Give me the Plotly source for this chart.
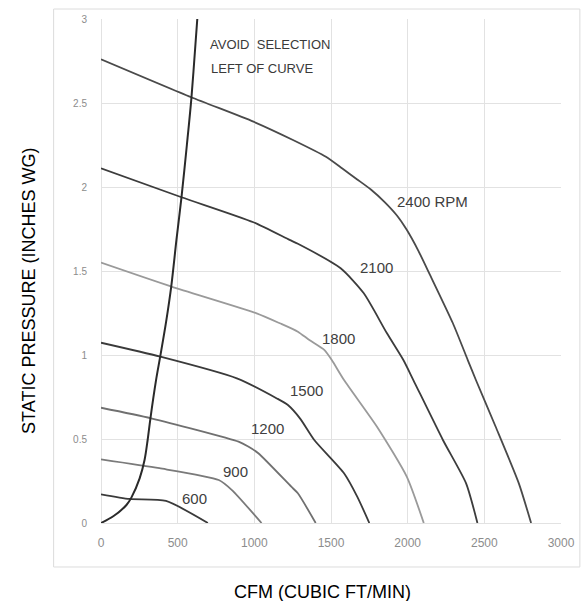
import plotly.graph_objects as go

# ---------------- data ----------------
x_ticks = [0, 500, 1000, 1500, 2000, 2500, 3000]
x_tick_labels = ["0", "500", "1000", "1500", "2000", "2500", "3000"]
y_ticks = [0, 0.5, 1, 1.5, 2, 2.5, 3]
y_tick_labels = ["0", "0.5", "1", "1.5", "2", "2.5", "3"]

rpm2400_cfm = [0, 589, 994, 1252, 1467, 1574, 1671, 1760, 1850, 1930, 1994, 2070, 2144, 2295, 2392, 2445, 2574, 2725, 2805]
rpm2400_sp = [2.76, 2.534, 2.389, 2.28, 2.18, 2.11, 2.045, 1.985, 1.91, 1.83, 1.745, 1.62, 1.48, 1.189, 0.97, 0.851, 0.573, 0.236, 0]

rpm2100_cfm = [0, 525, 994, 1230, 1284, 1563, 1714, 1865, 1972, 2037, 2230, 2381, 2455]
rpm2100_sp = [2.111, 1.939, 1.79, 1.685, 1.662, 1.516, 1.367, 1.129, 0.97, 0.851, 0.494, 0.236, 0]

rpm1800_cfm = [0, 460, 1015, 1166, 1284, 1359, 1456, 1505, 1585, 1800, 1994, 2105]
rpm1800_sp = [1.55, 1.407, 1.248, 1.189, 1.139, 1.089, 1.03, 0.97, 0.851, 0.573, 0.276, 0]

rpm1500_cfm = [0, 387, 886, 1150, 1219, 1300, 1391, 1585, 1671, 1750]
rpm1500_sp = [1.073, 0.99, 0.861, 0.74, 0.702, 0.62, 0.494, 0.296, 0.157, 0]

rpm1200_cfm = [0, 327, 897, 960, 1026, 1241, 1284, 1400]
rpm1200_sp = [0.686, 0.623, 0.484, 0.455, 0.415, 0.216, 0.177, 0]

rpm900_cfm = [0, 381, 768, 854, 1047]
rpm900_sp = [0.379, 0.326, 0.256, 0.196, 0]

rpm600_cfm = [0, 187, 424, 697]
rpm600_sp = [0.171, 0.143, 0.131, 0]

system_cfm = [0, 80, 166, 198, 252, 284, 305, 322, 359, 386, 425, 458, 492, 525, 560, 590, 618, 628]
system_sp = [0, 0.04, 0.107, 0.151, 0.266, 0.375, 0.5, 0.62, 0.85, 0.99, 1.2, 1.407, 1.685, 1.94, 2.25, 2.534, 2.875, 3.0]

curve_names = ["2400 RPM", "2100", "1800", "1500", "1200", "900", "600"]
curve_x = [rpm2400_cfm, rpm2100_cfm, rpm1800_cfm, rpm1500_cfm, rpm1200_cfm, rpm900_cfm, rpm600_cfm]
curve_y = [rpm2400_sp, rpm2100_sp, rpm1800_sp, rpm1500_sp, rpm1200_sp, rpm900_sp, rpm600_sp]

# ---------------- styles ----------------
curve_colors = ["#4a4a4a", "#3c3c3c", "#9a9a9a", "#3a3a3a", "#707070", "#7a7a7a", "#3a3a3a"]
label_pos = [(2161, 1.911), (1797, 1.518), (1548, 1.101), (1342, 0.786), (1087, 0.56), (876, 0.304), (608, 0.143)]

FONT = "Liberation Sans, Arial, sans-serif"

fig = go.Figure()
for name, xs, ys, col in zip(curve_names, curve_x, curve_y, curve_colors):
    fig.add_trace(go.Scatter(x=xs, y=ys, mode="lines", name=name,
                             line=dict(color=col, width=1.8, shape="spline", smoothing=0.6),
                             hoverinfo="skip", showlegend=False))

fig.add_trace(go.Scatter(x=system_cfm, y=system_sp, mode="lines", name="system",
                         line=dict(color="#2a2a2a", width=2.0, shape="spline", smoothing=0.9),
                         hoverinfo="skip", showlegend=False))

annotations = []
for name, (lx, ly) in zip(curve_names, label_pos):
    annotations.append(dict(x=lx, y=ly, xref="x", yref="y", text=name, showarrow=False,
                            xanchor="center", yanchor="middle",
                            font=dict(family=FONT, size=15, color="#404040")))

annotations.append(dict(x=697, y=2.847, xref="x", yref="y", text="AVOID&nbsp; SELECTION",
                        showarrow=False, xanchor="left", yanchor="middle",
                        font=dict(family=FONT, size=13, color="#3a3a3a")))
annotations.append(dict(x=703, y=2.708, xref="x", yref="y", text="LEFT OF CURVE",
                        showarrow=False, xanchor="left", yanchor="middle",
                        font=dict(family=FONT, size=13, color="#3a3a3a")))

# axis titles
annotations.append(dict(x=0.4817, y=-0.137, xref="paper", yref="paper",
                        text="CFM (CUBIC FT/MIN)", showarrow=False,
                        xanchor="center", yanchor="middle",
                        font=dict(family=FONT, size=18, color="#000000")))
annotations.append(dict(x=-0.157, y=0.46, xref="paper", yref="paper",
                        text="STATIC PRESSURE (INCHES WG)", showarrow=False, textangle=-90,
                        xanchor="center", yanchor="middle",
                        font=dict(family=FONT, size=18, color="#000000")))

fig.update_layout(
    width=587, height=601,
    margin=dict(l=101, r=21, t=19, b=78),
    paper_bgcolor="white", plot_bgcolor="white",
    annotations=annotations,
    shapes=[dict(type="rect", xref="paper", yref="paper",
                 x0=-0.103, x1=1.041, y0=-0.0873, y1=1.0198,
                 line=dict(color="#dcdcdc", width=1), fillcolor="rgba(0,0,0,0)", layer="below")],
)

fig.update_xaxes(range=[0, 3000], tickvals=x_ticks, ticktext=x_tick_labels,
                 showgrid=True, gridcolor="#e2e2e2", gridwidth=1,
                 zeroline=True, zerolinecolor="#e2e2e2", zerolinewidth=1,
                 showline=False, ticks="outside", ticklen=9, tickcolor="rgba(0,0,0,0)",
                 tickfont=dict(family=FONT, size=12, color="#8c8c8c"), fixedrange=True)
fig.update_yaxes(range=[0, 3], tickvals=y_ticks, ticktext=y_tick_labels,
                 showgrid=True, gridcolor="#e2e2e2", gridwidth=1,
                 zeroline=True, zerolinecolor="#e2e2e2", zerolinewidth=1,
                 showline=False, ticks="outside", ticklen=11, tickcolor="rgba(0,0,0,0)",
                 tickfont=dict(family=FONT, size=10, color="#8c8c8c"), fixedrange=True)

fig.write_html("out.html", config={"displayModeBar": False},
               post_script="document.body.style.margin='0';document.body.style.overflow='hidden';")
